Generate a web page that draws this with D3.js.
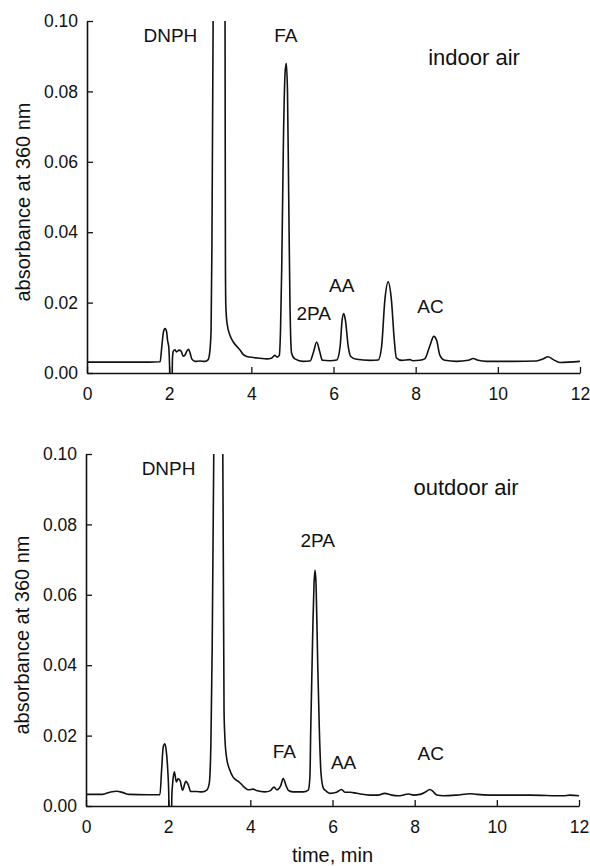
<!DOCTYPE html>
<html>
<head>
<meta charset="utf-8">
<script src="https://cdn.jsdelivr.net/npm/d3@7"></script>
<style>
  body { margin: 0; background: #fff; }
  text { font-family: "Liberation Sans", Arial, sans-serif; fill: #111; }
</style>
</head>
<body>
<svg width="590" height="866" id="chart"></svg>
<script>
// time ticks (min) and absorbance ticks
const timeTicks = [0, 2, 4, 6, 8, 10, 12];
const absTicks = [0, 0.02, 0.04, 0.06, 0.08, 0.10];

// indoor air trace, [time min, absorbance]
const indoor = [
  [0,0.0031],[0.5,0.0031],[1.0,0.0031],[1.5,0.0031],[1.78,0.0032],[1.82,0.0074],[1.86,0.0116],[1.90,0.0126],
  [1.94,0.0116],[1.96,0.0093],[1.99,0.0074],[2.01,0.002],[2.02,-0.003],[2.07,-0.003],[2.08,0.004],[2.10,0.0062],
  [2.14,0.0066],[2.18,0.0060],[2.24,0.0065],[2.29,0.0062],[2.34,0.0048],[2.38,0.0050],[2.43,0.0062],[2.47,0.0067],
  [2.51,0.0057],[2.55,0.0040],[2.63,0.0033],[2.75,0.0034],[2.87,0.0033],[2.95,0.0038],[2.99,0.0062],[3.02,0.012],
  [3.04,0.035],[3.07,0.10],[3.12,0.35],[3.22,0.6],[3.31,0.35],[3.36,0.10],[3.37,0.03],[3.38,0.0188],[3.41,0.014],
  [3.48,0.0107],[3.56,0.0088],[3.66,0.0074],[3.72,0.0066],[3.80,0.0053],[3.89,0.0047],[4.05,0.0044],[4.21,0.0042],
  [4.37,0.0040],[4.49,0.0042],[4.57,0.0050],[4.63,0.0045],[4.68,0.0050],[4.71,0.012],[4.74,0.03],[4.78,0.065],
  [4.82,0.085],[4.85,0.088],[4.88,0.080],[4.91,0.050],[4.94,0.020],[4.98,0.0056],[5.06,0.0040],[5.26,0.0033],
  [5.43,0.0034],[5.51,0.0058],[5.59,0.0088],[5.67,0.0058],[5.73,0.0036],[5.91,0.0035],[6.08,0.0037],[6.16,0.0074],
  [6.21,0.0150],[6.25,0.0169],[6.29,0.0150],[6.36,0.0074],[6.42,0.0047],[6.56,0.0039],[6.89,0.0036],[7.09,0.0037],
  [7.17,0.0074],[7.25,0.0207],[7.33,0.0259],[7.41,0.0207],[7.48,0.0093],[7.53,0.0043],[7.66,0.0036],[7.86,0.0038],
  [7.93,0.0035],[8.10,0.0036],[8.22,0.0040],[8.35,0.0079],[8.44,0.0104],[8.51,0.0093],[8.59,0.0050],[8.71,0.0036],
  [9.0,0.0033],[9.28,0.0036],[9.40,0.0041],[9.52,0.0036],[9.72,0.0033],[10.37,0.0033],[10.94,0.0034],[11.10,0.0040],
  [11.22,0.0046],[11.35,0.0038],[11.51,0.0030],[12.0,0.0033]
];

// outdoor air trace, [time min, absorbance]
const outdoor = [
  [0,0.0033],[0.40,0.0033],[0.60,0.0040],[0.75,0.0042],[0.90,0.0038],[1.05,0.0033],[1.5,0.0032],[1.80,0.0032],
  [1.84,0.0102],[1.88,0.0168],[1.92,0.0177],[1.95,0.0160],[1.99,0.0102],[2.01,0.0054],[2.03,-0.003],[2.08,-0.003],
  [2.09,0.003],[2.11,0.0065],[2.15,0.0097],[2.20,0.0068],[2.24,0.0077],[2.29,0.0072],[2.35,0.0045],[2.43,0.0070],
  [2.49,0.0060],[2.55,0.0041],[2.69,0.0041],[2.82,0.0040],[2.94,0.0045],[3.00,0.0064],[3.04,0.0177],[3.06,0.035],
  [3.11,0.10],[3.15,0.35],[3.23,0.6],[3.30,0.35],[3.33,0.10],[3.36,0.027],[3.38,0.0196],[3.42,0.0139],[3.50,0.0102],
  [3.58,0.0082],[3.65,0.0074],[3.73,0.0068],[3.83,0.0056],[3.95,0.0046],[4.07,0.0048],[4.15,0.0044],[4.36,0.0040],
  [4.48,0.0043],[4.58,0.0054],[4.64,0.0046],[4.74,0.0058],[4.80,0.0078],[4.87,0.0058],[4.93,0.0044],[5.05,0.0040],
  [5.29,0.0040],[5.41,0.0045],[5.45,0.0082],[5.47,0.0215],[5.52,0.050],[5.55,0.063],[5.575,0.067],[5.60,0.063],
  [5.64,0.0405],[5.68,0.0215],[5.72,0.0093],[5.78,0.0050],[5.85,0.0042],[5.94,0.0036],[6.10,0.0039],[6.22,0.0047],
  [6.30,0.0039],[6.43,0.0039],[6.59,0.0036],[6.91,0.0031],[7.11,0.0031],[7.27,0.0036],[7.44,0.0031],[7.60,0.0029],
  [7.85,0.0034],[7.97,0.0031],[8.13,0.0033],[8.25,0.0039],[8.37,0.0047],[8.45,0.0041],[8.54,0.0031],[8.70,0.0029],
  [9.02,0.0031],[9.35,0.0035],[9.51,0.0033],[9.83,0.0031],[10.81,0.0031],[11.62,0.0029],[11.78,0.0031],[12.0,0.0029]
];

// peak labels, anchored at [time, absorbance]; big = panel title
const indoorLabels = [
  {text: "DNPH", t: 2.03, a: 0.094},
  {text: "FA", t: 4.84, a: 0.094},
  {text: "indoor air", t: 9.42, a: 0.0874, big: true},
  {text: "2PA", t: 5.52, a: 0.015},
  {text: "AA", t: 6.20, a: 0.0229},
  {text: "AC", t: 8.36, a: 0.017}
];
const outdoorLabels = [
  {text: "DNPH", t: 2.01, a: 0.094},
  {text: "outdoor air", t: 9.25, a: 0.0884, big: true},
  {text: "2PA", t: 5.64, a: 0.0736},
  {text: "FA", t: 4.83, a: 0.0136},
  {text: "AA", t: 6.27, a: 0.0105},
  {text: "AC", t: 8.39, a: 0.013}
];

const svg = d3.select("#chart");
const panels = [
  {data: indoor, labels: indoorLabels, left: 87, top: 21},
  {data: outdoor, labels: outdoorLabels, left: 86, top: 454}
];
const width = 493, height = 352;

panels.forEach((p, i) => {
  const g = svg.append("g").attr("transform", "translate(" + p.left + "," + p.top + ")");

  const x = d3.scaleLinear().domain([0, 12]).range([0, width]);
  const y = d3.scaleLinear().domain([0, 0.10]).range([height, 0]);

  g.append("clipPath").attr("id", "clip" + i)
    .append("rect").attr("width", width).attr("height", height);

  const line = d3.line()
    .x(d => x(d[0]))
    .y(d => y(d[1]))
    .curve(d3.curveMonotoneX);

  g.append("path")
    .datum(p.data)
    .attr("clip-path", "url(#clip" + i + ")")
    .attr("d", line)
    .attr("fill", "none")
    .attr("stroke", "#111")
    .attr("stroke-width", 1.6)
    .attr("stroke-linejoin", "round");

  const xAxis = g.append("g")
    .attr("transform", "translate(0," + height + ")")
    .call(d3.axisBottom(x).tickValues(timeTicks).tickSize(-6).tickSizeOuter(0).tickPadding(15));

  const yAxis = g.append("g")
    .call(d3.axisLeft(y).tickValues(absTicks).tickFormat(d3.format(".2f")).tickSize(-6).tickSizeOuter(0).tickPadding(9));

  [xAxis, yAxis].forEach(ax => {
    ax.select(".domain").attr("stroke", "#111").attr("stroke-width", 1.6);
    ax.selectAll(".tick line").attr("stroke", "#111").attr("stroke-width", 1.3);
    ax.selectAll(".tick text")
      .style("font-family", "'Liberation Sans', Arial, sans-serif")
      .style("font-size", "17.5px")
      .attr("fill", "#111");
  });

  g.append("text")
    .attr("transform", "translate(-57," + (height / 2 + 5) + ") rotate(-90)")
    .attr("text-anchor", "middle")
    .style("font-size", "20px")
    .text("absorbance at 360 nm");

  g.selectAll(".peak")
    .data(p.labels)
    .enter().append("text")
    .attr("class", "peak")
    .attr("x", d => x(d.t))
    .attr("y", d => y(d.a))
    .attr("text-anchor", "middle")
    .style("font-size", d => d.big ? "22px" : "19px")
    .text(d => d.text);

  if (i === 1) {
    g.append("text")
      .attr("x", width / 2)
      .attr("y", height + 56)
      .attr("text-anchor", "middle")
      .style("font-size", "20px")
      .text("time, min");
  }
});
</script>
</body>
</html>
